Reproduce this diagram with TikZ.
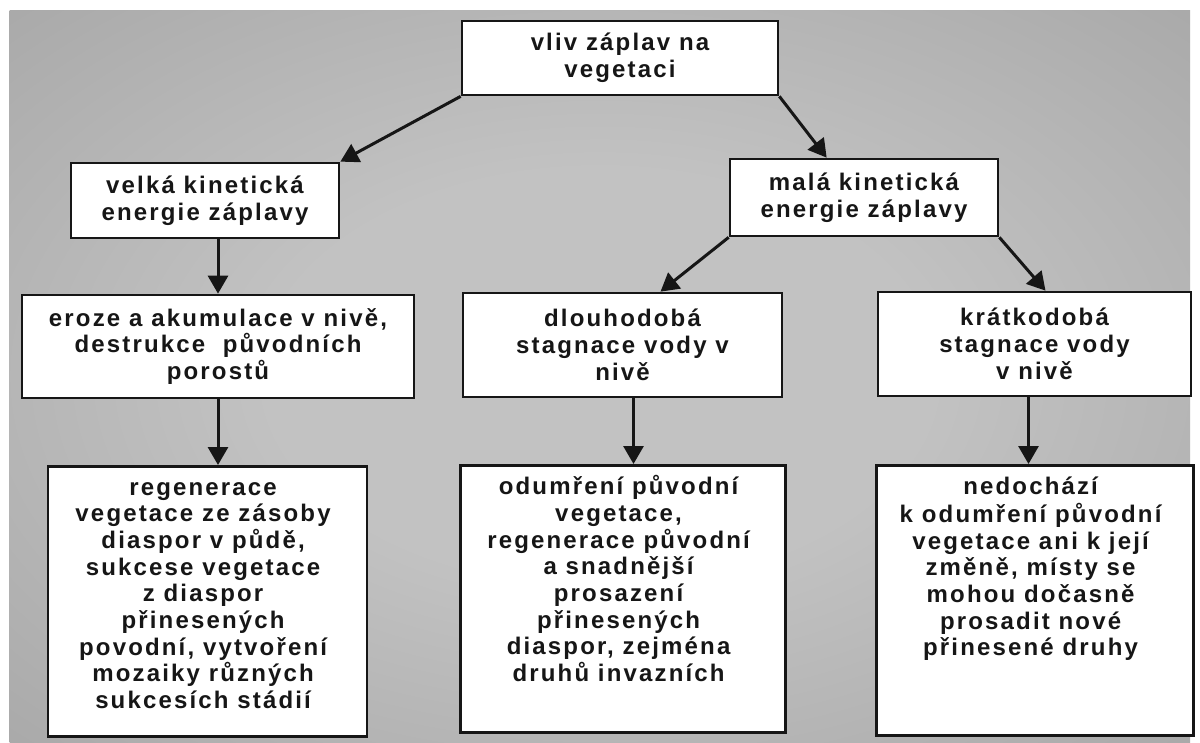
\documentclass[tikz,border=0pt]{standalone}
\usepackage{fontspec}
\usepackage{tikz}
\usetikzlibrary{arrows.meta}
\newfontfamily\boxfont[LetterSpace=9]{Liberation Sans}
\definecolor{bglight}{RGB}{194,194,194}
\definecolor{bgdark}{RGB}{128,128,128}
\definecolor{ink}{RGB}{22,22,22}
\pgfdeclareradialshading{floodbg}{\pgfpoint{0bp}{0bp}}{color(0bp)=(bglight); color(14bp)=(bglight); color(72bp)=(bgdark)}
\tikzstyle{floodbox} = [draw=ink, fill=white, line width=2.7pt,
    rectangle, inner sep=0pt, align=center, text=ink,
    font=\boxfont\bfseries\fontsize{24pt}{26.7pt}\selectfont]
\tikzstyle{floodarrow} = [draw=ink, line width=3pt, -{Triangle[length=18pt,width=20pt]}]

\begin{document}
\begin{tikzpicture}[x=1pt, y=-1pt]
                \useasboundingbox[fill=white] (0,0) rectangle (1200,742);
                \shade[shading=floodbg] (9.5,10) rectangle (1190,742);
                \node [floodbox, minimum width=316pt, minimum height=74pt] (box1) at (620,58) {vliv záplav na\\vegetaci};
                \node [floodbox, minimum width=268pt, minimum height=75pt] (box2) at (205,200.5) {velká kinetická\\energie záplavy};
                \node [floodbox, minimum width=268pt, minimum height=77pt] (box3) at (864,197.5) {malá kinetická\\energie záplavy};
                \node [floodbox, minimum width=392pt, minimum height=103pt] (box4) at (218,346.5) {eroze a akumulace v nivě,\\destrukce\ \ původních\\porostů};
                \node [floodbox, minimum width=319pt, minimum height=104pt] (box5) at (622.5,345) {dlouhodobá\\stagnace vody v\\nivě};
                \node [floodbox, minimum width=313pt, minimum height=104pt] (box6) at (1034.5,344) {krátkodobá\\stagnace vody\\v nivě};
                \node [floodbox, anchor=north, inner ysep=10pt] (box7) at (207.5,465) {%
                    \begin{minipage}[t][250pt][t]{310pt}\centering
                        \strut regenerace\\
                        vegetace ze zásoby\\
                        diaspor v půdě,\\
                        sukcese vegetace\\
                        z diaspor\\
                        přinesených\\
                        povodní, vytvoření\\
                        mozaiky různých\\
                        sukcesích stádií
                    \end{minipage}
                };
                \node [floodbox, anchor=north, inner ysep=10pt] (box8) at (623,464) {%
                    \begin{minipage}[t][247pt][t]{316pt}\centering
                        \strut odumření původní\\
                        vegetace,\\
                        regenerace původní\\
                        a snadnější\\
                        prosazení\\
                        přinesených\\
                        diaspor, zejména\\
                        druhů invazních
                    \end{minipage}
                };
                \node [floodbox, anchor=north, inner ysep=10pt] (box9) at (1035,464) {%
                    \begin{minipage}[t][250pt][t]{308pt}\centering
                        \strut nedochází\\
                        k odumření původní\\
                        vegetace ani k její\\
                        změně, místy se\\
                        mohou dočasně\\
                        prosadit nové\\
                        přinesené druhy
                    \end{minipage}
                };
                \draw[floodarrow] (box1.south west) -- (box2.north east);
                \draw[floodarrow] (box1.south east) -- ([xshift=98pt]box3.north west);
                \draw[floodarrow] (box3.south west) -- ([xshift=38pt]box5.north);
                \draw[floodarrow] (box3.south east) -- ([xshift=11pt]box6.north);
                \draw[floodarrow] (box4.north |- box2.south) -- (box4.north);
                \draw[floodarrow] (box4.south) -- (box4.south |- box7.north);
                \draw[floodarrow] ([xshift=11pt]box5.south) -- ([xshift=11pt]box5.south |- box8.north);
                \draw[floodarrow] ([xshift=-6pt]box6.south) -- ([xshift=-6pt]box6.south |- box9.north);
            \end{tikzpicture}
\end{document}
